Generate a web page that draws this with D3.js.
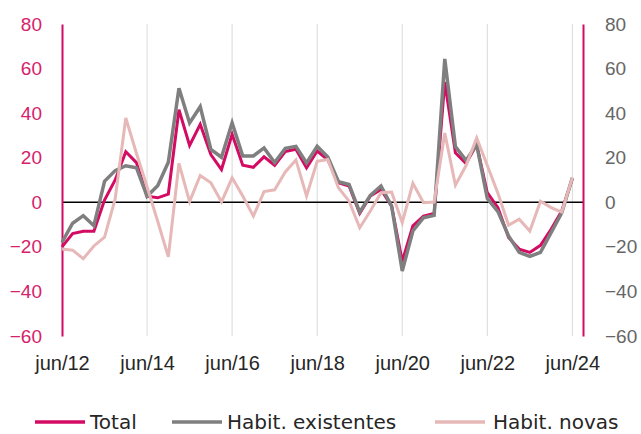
<!DOCTYPE html>
<html>
<head>
<meta charset="utf-8">
<script src="https://cdn.jsdelivr.net/npm/d3@7"></script>
<style>
  body { margin: 0; background: #fff; }
  svg { display: block; font-family: "DejaVu Sans", sans-serif; }
</style>
</head>
<body>
<svg></svg>
<script>
var width = 641;
var height = 434;

// quarters jun/12 .. jun/24
var quarters = [
  "jun/12", "set/12", "dez/12", "mar/13", "jun/13", "set/13", "dez/13", "mar/14",
  "jun/14", "set/14", "dez/14", "mar/15", "jun/15", "set/15", "dez/15", "mar/16",
  "jun/16", "set/16", "dez/16", "mar/17", "jun/17", "set/17", "dez/17", "mar/18",
  "jun/18", "set/18", "dez/18", "mar/19", "jun/19", "set/19", "dez/19", "mar/20",
  "jun/20", "set/20", "dez/20", "mar/21", "jun/21", "set/21", "dez/21", "mar/22",
  "jun/22", "set/22", "dez/22", "mar/23", "jun/23", "set/23", "dez/23", "mar/24",
  "jun/24"
];
var tickLabels = ["jun/12", "jun/14", "jun/16", "jun/18", "jun/20", "jun/22", "jun/24"];
var yTicks = [-60, -40, -20, 0, 20, 40, 60, 80];

var total = [
  -20, -14, -13, -13, 1, 10, 22.7, 17.8,
  2.7, 2, 3.7, 41.5, 25.5, 35, 21.4, 14.7,
  30.5, 16.6, 15.7, 20.4, 16.6, 22.8, 23.8, 15.5,
  23, 19, 8.8, 7.3, -5, 2.8, 5.8, -1.7,
  -26.5, -10.6, -6.2, -5, 54, 22.2, 17.4, 25.9,
  4.3, -2.4, -15.8, -21, -22.5, -19.3, -12.1, -3.9,
  10.5
];
var existentes = [
  -18, -9.4, -6, -10.5, 9.4, 14.2, 16.4, 15.5,
  2.7, 7.4, 18, 51.2, 35.6, 42.9, 23.7, 20.2,
  35.7, 20.8, 20.8, 24.4, 17.8, 24.2, 25.1, 17.6,
  25.1, 20.3, 9.2, 8, -4.4, 3.1, 7.3, -1.7,
  -30.8, -12.9, -6.9, -5.9, 64.3, 25, 18.8, 25.9,
  1.7, -4.2, -15.1, -22.5, -24.3, -22.5, -13.6, -4.7,
  11
];
var novas = [
  -21, -21.5, -25.3, -19.6, -15.6, 1.5, 37.8, 22,
  7, -8.5, -24.5, 17.5, 0.3, 12, 8.8, 0.2,
  11, 2.8, -6.2, 4.8, 5.6, 13.6, 19, 2.8,
  18.4, 19.2, 6.5, 0.5, -11.4, -3.9, 4.3, 4.6,
  -9.1, 8.5, -0.2, 0.1, 31.1, 7.7, 16.5, 28.9,
  16.5, 4, -10.3, -7.6, -12.9, 0.5, -2.4, -4.4,
  11
];

var series = [
  { name: "Total", values: total, color: "#d40b63", width: 3 },
  { name: "Habit. existentes", values: existentes, color: "#7f7f7f", width: 3.5 },
  { name: "Habit. novas", values: novas, color: "#e6b8b7", width: 3 }
];

var svg = d3.select("svg").attr("width", width).attr("height", height);

var xScale = d3.scaleLinear().domain([0, 49]).range([62, 583]);
var yScale = d3.scaleLinear().domain([-60, 80]).range([336, 24]);

var tickIdx = tickLabels.map(d => quarters.indexOf(d));

// vertical gridlines
svg
  .append("g")
  .selectAll("line")
  .data(tickIdx.slice(1))
  .enter()
  .append("line")
  .attr("x1", d => xScale(d))
  .attr("x2", d => xScale(d))
  .attr("y1", yScale(80))
  .attr("y2", yScale(-60))
  .attr("stroke", "#d9d9d9")
  .attr("stroke-width", 1);

// zero line
svg
  .append("line")
  .attr("x1", xScale(0))
  .attr("x2", xScale(49))
  .attr("y1", yScale(0))
  .attr("y2", yScale(0))
  .attr("stroke", "#000")
  .attr("stroke-width", 1.5);

// left axis
var leftAxis = svg
  .append("g")
  .attr("transform", "translate(" + xScale(0) + ",0)")
  .call(d3.axisLeft(yScale).tickValues(yTicks).tickSize(0).tickPadding(20));
leftAxis.select(".domain").attr("stroke", "#d40b63").attr("stroke-width", 2);
leftAxis.selectAll("text").attr("fill", "#d6216b").style("font-size", "19px");

// right axis
var rightAxis = svg
  .append("g")
  .attr("transform", "translate(" + xScale(49) + ",0)")
  .call(d3.axisRight(yScale).tickValues(yTicks).tickSize(0).tickPadding(22));
rightAxis.select(".domain").attr("stroke", "#d40b63").attr("stroke-width", 2);
rightAxis.selectAll("text").attr("fill", "#666").style("font-size", "19px");

// bottom labels
var bottomAxis = svg
  .append("g")
  .attr("transform", "translate(0," + yScale(-60) + ")")
  .call(
    d3.axisBottom(xScale)
      .tickValues(tickIdx)
      .tickSize(0)
      .tickPadding(20)
      .tickFormat(d => quarters[d])
  );
bottomAxis.select(".domain").remove();
bottomAxis.selectAll("text").attr("fill", "#262626").style("font-size", "20px");

// lines
var line = d3
  .line()
  .x((d, i) => xScale(i))
  .y(d => yScale(d));

svg
  .append("g")
  .selectAll("path")
  .data(series)
  .enter()
  .append("path")
  .attr("d", d => line(d.values))
  .attr("fill", "none")
  .attr("stroke", d => d.color)
  .attr("stroke-width", d => d.width)
  .attr("stroke-linejoin", "miter");

// legend
var legendX = [35, 172, 435];
var legend = svg
  .append("g")
  .selectAll("g")
  .data(series)
  .enter()
  .append("g")
  .attr("transform", (d, i) => "translate(" + legendX[i] + ",422)");

legend
  .append("line")
  .attr("x1", 0)
  .attr("x2", 50)
  .attr("stroke", d => d.color)
  .attr("stroke-width", 3.5);

legend
  .append("text")
  .attr("x", (d, i) => (i == 2 ? 58 : 55))
  .attr("y", 7)
  .attr("fill", "#262626")
  .style("font-size", "20px")
  .text(d => d.name);
</script>
</body>
</html>
